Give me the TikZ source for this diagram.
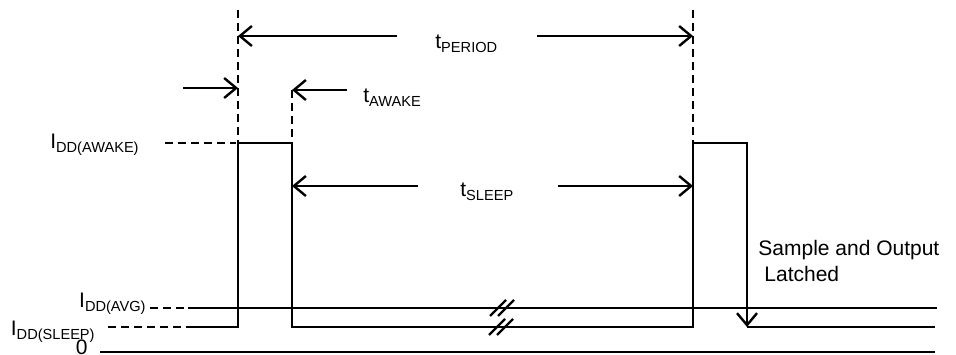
\documentclass[tikz,border=0pt]{standalone}
\usepackage{fontspec}
\setmainfont{Liberation Sans}
\usetikzlibrary{arrows.meta, positioning}

\newcommand{\sublbl}[1]{\raisebox{-2pt}{\fontsize{7.3}{8}\selectfont #1}}

\tikzset{
  wave/.style = {line width=1.2pt},
  guide/.style = {line width=1.2pt, dash pattern=on 4pt off 2.5pt},
  dim/.style = {line width=1.2pt, ->},
  lbl/.style = {inner sep=0pt, font=\fontsize{10.5}{12.6}\selectfont},
  brk/.style = {line width=1.2pt},
}

\begin{document}
\begin{tikzpicture}[x=0.5pt, y=-0.5pt, >={Straight Barb[length=6pt,width=10pt]}]
  \useasboundingbox (0,0) rectangle (956,354);

  % levels
  \coordinate (awakeL) at (165,143);
  \coordinate (awakeR) at (236,143);
  \coordinate (avgL) at (150,308);
  \coordinate (avgS) at (188,308);
  \coordinate (avgE) at (937,308);
  \coordinate (sleepL) at (108,327);
  \coordinate (sleepS) at (190,327);
  \coordinate (sleepE) at (935,327);
  \coordinate (zeroS) at (100,352);
  \coordinate (zeroE) at (935,352);

  % pulses
  \coordinate (rise1) at (238,327);
  \coordinate (top1a) at (238,143);
  \coordinate (top1b) at (292,143);
  \coordinate (fall1) at (292,327);
  \coordinate (rise2) at (693,327);
  \coordinate (top2a) at (693,143);
  \coordinate (top2b) at (747,143);
  \coordinate (fall2) at (747,327);

  % marker tops
  \coordinate (perL) at (238,10);
  \coordinate (perR) at (693,10);
  \coordinate (awkR) at (292,90);

  % waveform
  \draw[wave, ->] (sleepS) -- (rise1) -- (top1a) -- (top1b) -- (fall1)
    -- (rise2) -- (top2a) -- (top2b) -- (fall2);
  \draw[wave] (fall2) -- (sleepE);
  \draw[wave] (avgS) -- (avgE);
  \draw[wave] (zeroS) -- (zeroE);

  % break marks
  \foreach \bx/\by in {498/308, 506/308, 497/327, 505/327}
    \draw[brk] (\bx-8,\by+8) -- (\bx+8,\by-8);

  % dashed guides
  \draw[guide] (awakeL) -- (awakeR);
  \draw[guide] (avgL) -- (avgS);
  \draw[guide] (sleepL) -- (sleepS);
  \draw[guide] (perL) -- (top1a);
  \draw[guide] (awkR) -- (top1b);
  \draw[guide] (perR) -- (top2a);

  % level labels
  \node[lbl, anchor=base east] (lawake) at (139,148) {I\sublbl{DD(AWAKE)}};
  \node[lbl, anchor=base east] (lavg) at (146,307) {I\sublbl{DD(AVG)}};
  \node[lbl, anchor=base east] (lsleep) at (95,335) {I\sublbl{DD(SLEEP)}};
  \node[lbl, anchor=base east] (lzero) at (88,354) {0};

  % time labels
  \node[lbl, anchor=base west] (tperiod) at (435,48) {t\sublbl{PERIOD}};
  \node[lbl, anchor=base west] (tawake) at (363,102) {t\sublbl{AWAKE}};
  \node[lbl, anchor=base west] (tsleep) at (460,196) {t\sublbl{SLEEP}};
  \node[lbl, anchor=base west] (sample) at (758,255) {Sample and Output};
  \node[lbl, anchor=base west] (latched) at (764,281) {Latched};

  % dimension arrows
  \coordinate (perA) at (397,36);
  \coordinate (perB) at (537,36);
  \coordinate (awkA) at (183,88);
  \coordinate (awkB) at (347,90);
  \coordinate (slpA) at (418,186);
  \coordinate (slpB) at (558,186);
  \draw[dim] (perA) -- (perL |- perA);
  \draw[dim] (perB) -- (perR |- perB);
  \draw[dim] (awkA) -- (perL |- awkA);
  \draw[dim] (awkB) -- (awkR |- awkB);
  \draw[dim] (slpA) -- (top1b |- slpA);
  \draw[dim] (slpB) -- (top2a |- slpB);
\end{tikzpicture}
\end{document}
